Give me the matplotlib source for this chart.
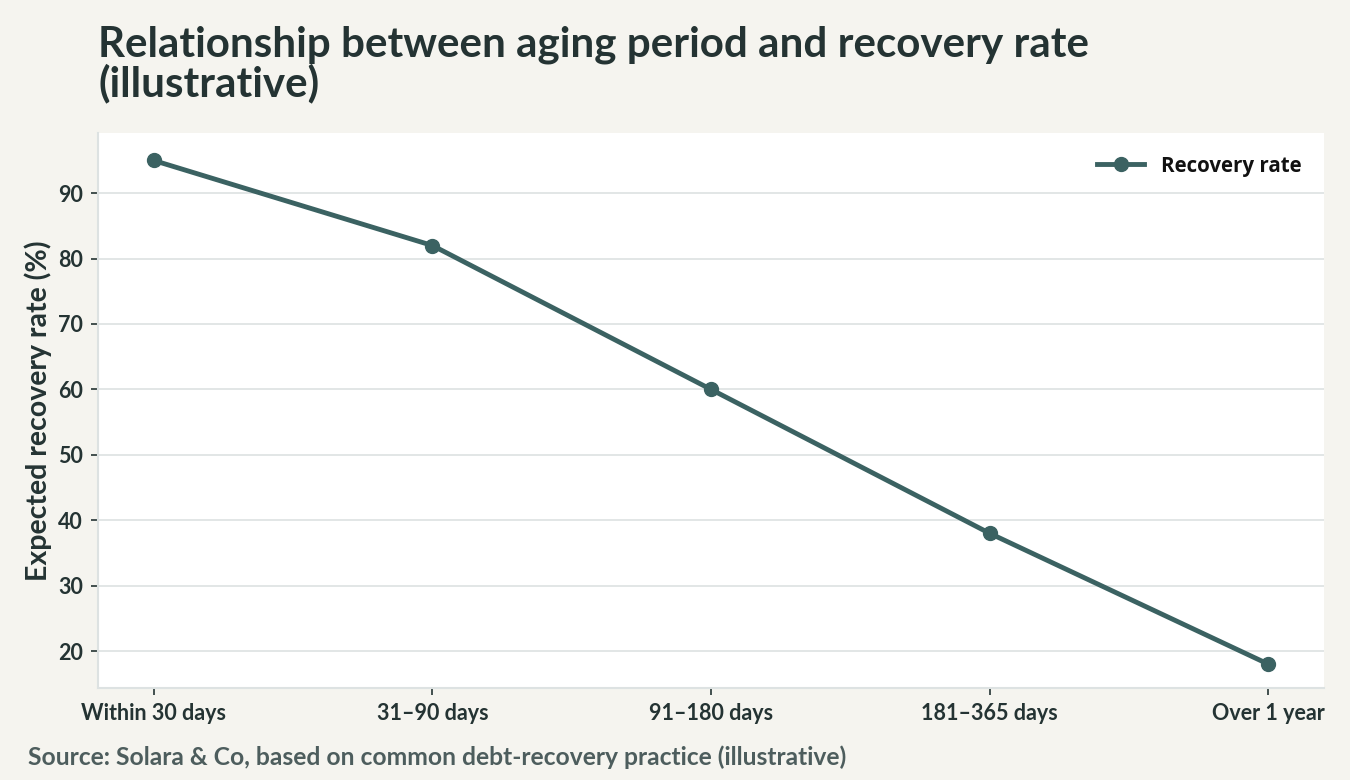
import matplotlib
matplotlib.use("Agg")
import matplotlib.pyplot as plt

categories = ["Within 30 days", "31–90 days", "91–180 days", "181–365 days", "Over 1 year"]
recovery = [95, 82, 60, 38, 18]
yticks = [20, 30, 40, 50, 60, 70, 80, 90]

BG = "#f5f4ef"
LINE = "#3b6262"
TXT = "#243333"
GRID = "#dde2e2"

plt.rcParams['font.family'] = ['Lato', 'DejaVu Sans']

fig = plt.figure(figsize=(13.5, 7.8), dpi=100, facecolor=BG)
ax = fig.add_axes([98/1350, 1-688/780, (1324-98)/1350, (688-133)/780])
ax.set_facecolor("white")

x = list(range(len(categories)))
ax.plot(x, recovery, color=LINE, lw=3.5, marker="o", ms=10, label="Recovery rate", zorder=3)

ax.set_xlim(-0.2, 4.2)
ax.set_ylim(14.35, 99.2)
ax.set_xticks(x)
ax.set_xticklabels(categories)
ax.set_yticks(yticks)
ax.grid(axis="y", color=GRID, lw=1.2)
ax.set_axisbelow(True)
for s in ["top", "right"]:
    ax.spines[s].set_visible(False)
for s in ["left", "bottom"]:
    ax.spines[s].set_color(GRID)
    ax.spines[s].set_linewidth(1.5)
ax.tick_params(axis="both", colors=TXT, labelsize=15.5, length=5, width=1.2, pad=6)
for lab in ax.get_xticklabels() + ax.get_yticklabels():
    lab.set_fontweight("bold")
    lab.set_color(TXT)
ax.set_ylabel("Expected recovery rate (%)", fontsize=20.5, fontweight="bold", color=TXT, labelpad=4)

leg = ax.legend(loc="upper right", frameon=False,
                prop={"family": ["Open Sans", "DejaVu Sans"], "weight": "bold", "size": 14.8},
                handlelength=2.3, borderaxespad=0.7, handletextpad=0.8)
for t in leg.get_texts():
    t.set_color("#111111")

fig.text(98/1350, 1-25/780, "Relationship between aging period and recovery rate\n(illustrative)",
         fontsize=30.3, fontweight="bold", color=TXT, va="top", ha="left", linespacing=1.0)
fig.text(28/1350, 1-765/780, "Source: Solara & Co, based on common debt-recovery practice (illustrative)",
         fontsize=17.75, fontweight="bold", color="#4d5d5d", va="baseline", ha="left")

fig.savefig("out.png", dpi=100, facecolor=BG)
